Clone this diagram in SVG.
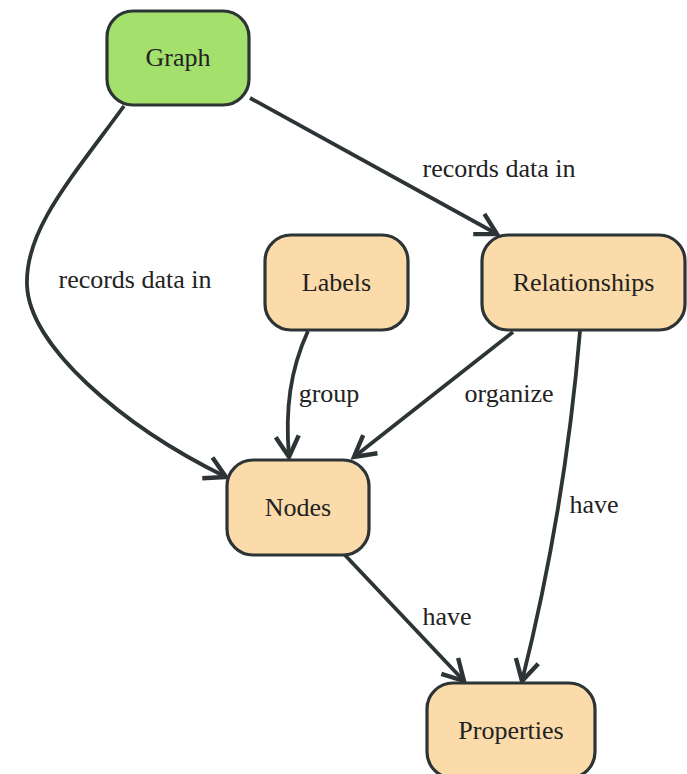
<svg xmlns="http://www.w3.org/2000/svg" width="687" height="774" viewBox="0 0 687 774">
<defs>
<style>
.node rect{stroke:#2d3436;stroke-width:3.2}
.n rect{fill:#fadba9}
.g rect{fill:#a4e06c}
text{font-family:"Liberation Serif","Times New Roman",serif;font-size:26px;fill:#222;text-anchor:middle}
.edges path{fill:none;stroke:#2d3436;stroke-width:3.8;marker-end:url(#arr)}
</style>
<marker id="arr" markerUnits="userSpaceOnUse" markerWidth="30" markerHeight="30" viewBox="-22 -12 26 24" refX="0" refY="0" orient="auto">
<path d="M-18,-10 L0,0 L-18,10" fill="none" stroke="#2d3436" stroke-width="3.8" stroke-linejoin="miter"/>
</marker>
</defs>
<rect width="687" height="774" fill="#fff"/>
<g class="edges">
<path d="M124,106 C70,180 25,230 27,285 C29,345 120,425 226,477"/>
<path d="M250,98 L497,234"/>
<path d="M308,331 C290,370 285,410 289,457"/>
<path d="M513,332 L354,457"/>
<path d="M580,331 Q565,510 522,681"/>
<path d="M343,553 L464,681"/>
</g>
<g class="labels">
<text x="135" y="288">records data in</text>
<text x="499" y="177">records data in</text>
<text x="329" y="402">group</text>
<text x="509" y="402">organize</text>
<text x="594" y="513">have</text>
<text x="447" y="625">have</text>
</g>
<g id="graph" class="node g"><rect x="107" y="11" width="142" height="94" rx="26"/><text x="178" y="66">Graph</text></g>
<g id="labels" class="node n"><rect x="265" y="235" width="143" height="95" rx="26"/><text x="336.5" y="291">Labels</text></g>
<g id="relationships" class="node n"><rect x="482" y="235" width="203" height="95" rx="26"/><text x="583.5" y="291">Relationships</text></g>
<g id="nodes" class="node n"><rect x="227" y="460" width="142" height="95" rx="26"/><text x="298" y="516">Nodes</text></g>
<g id="properties" class="node n"><rect x="427" y="683" width="168" height="95" rx="26"/><text x="511" y="739">Properties</text></g>
</svg>
